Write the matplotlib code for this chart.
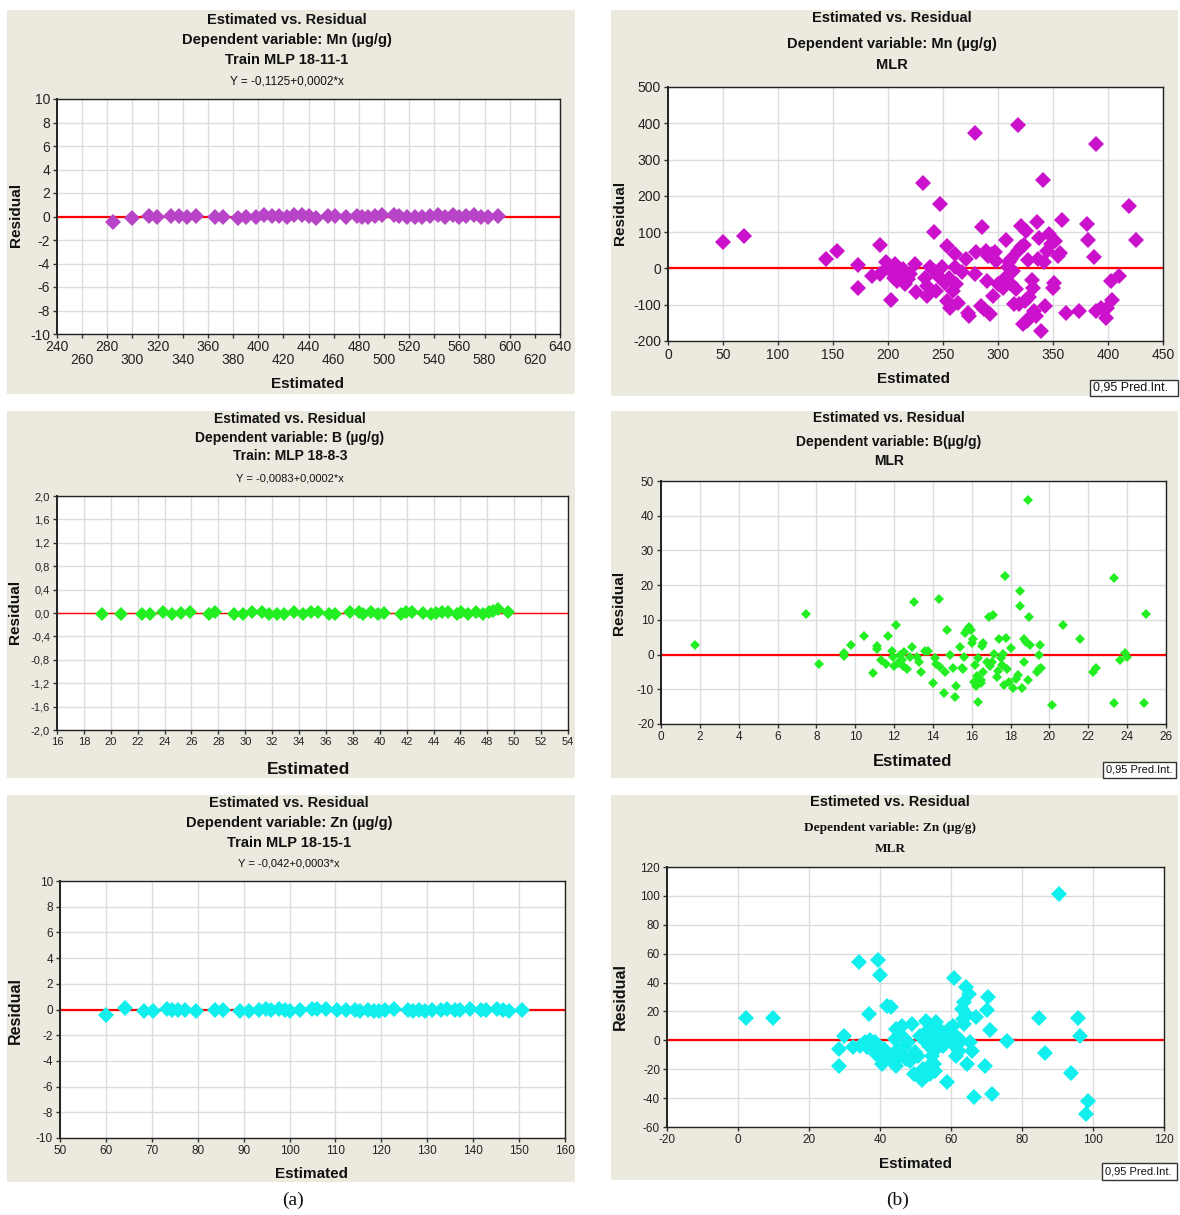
import numpy as np
import matplotlib.pyplot as plt
from matplotlib.patches import Rectangle

W, H = 1180, 1215
BG = '#ECE9DF'
SANS = 'Liberation Sans'
SERIF = 'Liberation Serif'

# ---- (a) Mn, MLP 18-11-1 ----
mn_mlp_x = [284.3, 299.3, 313.4, 319.4, 330.5, 337.4, 343.4, 350.3, 365.8, 371.8,
            383.8, 390.4, 398.2, 404.8, 410.8, 416.8, 422.8, 428.2, 434.8, 440.1,
            446.1, 455.7, 461.1, 470.1, 478.2, 482.7, 487.2, 493.2, 498.3, 508.2,
            512.1, 518.7, 524.6, 530.6, 536.6, 542.6, 548.6, 554.6, 560.0, 565.1,
            572.0, 577.1, 583.1, 590.6]
mn_mlp_y = [-0.5, -0.15, 0.05, 0.0, 0.02, 0.05, 0.0, 0.05, 0.0, -0.02,
            -0.1, 0.0, -0.05, 0.1, 0.05, 0.05, 0.0, 0.1, 0.15, 0.05,
            -0.1, 0.05, 0.05, 0.0, 0.05, 0.0, -0.05, 0.05, 0.1, 0.15,
            0.05, 0.0, -0.05, 0.0, 0.05, 0.1, 0.0, 0.1, 0.0, 0.05,
            0.1, 0.0, 0.0, 0.05]

# ---- (b) Mn, MLR ----
mn_mlr_x = [50.2, 69.1, 143.2, 154, 172.9, 172.9, 185, 193.1, 192.5, 198,
            200, 203, 205, 206.6, 202.6, 208.3, 211.6, 213.3, 215, 218.4,
            220, 224.5, 225.2, 231.5, 233.6, 235.3, 235.3, 238.6, 242, 242,
            243.7, 245.4, 247, 248.7, 252, 253.8, 253.8, 255.5, 256.5, 258.8,
            260.5, 261.2, 262.2, 263.2, 267.3, 271.3, 272.7, 273.3, 279, 280,
            279, 285.8, 284.1, 287.5, 289.2, 290.2, 290.9, 292.6, 294.2, 295.9,
            297.6, 298.3, 300.3, 304.3, 306, 307.7, 308.7, 310.4, 311.8, 311.8,
            313.8, 314.5, 316.1, 317.8, 318.5, 319.5, 320.5, 321.2, 322.9, 323.9,
            324.6, 325.2, 326.2, 327.3, 327.9, 329.6, 330.6, 332, 333, 334.7,
            335.4, 336.4, 337.4, 338.8, 340.8, 341.4, 343.1, 344.8, 346.5, 348.2,
            349.9, 350.9, 352.2, 354.2, 356.6, 358.3, 361.6, 373.8, 380.5, 381.9,
            387.6, 389.3, 389.3, 393.7, 398.1, 399.4, 403.1, 403.8, 410.2, 419,
            425.7]
mn_mlr_y = [72, 89, 26, 49, 9, -53, -20, 65, -16, 17,
            3, -6, -25, 12, -88, -34, -20, -2, -43, -30,
            -16, 12, -64, 235, -25, -48, -76, 3, 101, -6,
            -62, -20, 178, 3, -39, 61, -89, -25, -108, -62,
            3, 40, -43, -94, -11, 26, -122, -131, 372, 44,
            -14, 115, -103, -113, 49, -34, 35, -126, 40, -76,
            44, 21, -43, -53, -25, 78, 3, 17, 26, -43,
            -6, -99, -57, 49, 394, -99, 58, 118, -154, 65,
            -89, 104, -145, 23, -80, -131, -32, -53, -117, -131,
            129, 26, 83, -173, 245, 17, -103, 49, 95, 67,
            -53, -39, 75, 35, 42, 134, -124, -117, 123, 78,
            32, 342, -117, -108, -137, -108, -36, -88, -20, 173,
            78]

# ---- (a) B, MLP 18-8-3 ----
b_mlp_x = [19.35, 20.75, 22.29, 22.9, 23.88, 24.52, 25.22, 25.92, 27.32, 27.74,
           29.13, 29.83, 30.53, 31.23, 31.79, 32.35, 32.9, 33.6, 34.3, 34.86,
           35.42, 36.26, 36.68, 37.79, 38.49, 38.77, 39.33, 39.89, 40.31, 41.57,
           41.98, 42.4, 43.24, 43.8, 44.22, 44.64, 45.06, 45.76, 46.04, 46.6,
           47.15, 47.71, 48.13, 48.41, 48.83, 49.53]
b_mlp_y = [-0.02, -0.02, -0.01, -0.01, 0.02, -0.01, 0.0, 0.02, -0.01, 0.01,
           -0.01, -0.01, 0.01, 0.01, -0.01, -0.01, -0.01, 0.01, -0.01, 0.01,
           0.01, -0.01, -0.01, 0.02, 0.01, -0.01, 0.01, -0.01, 0.0, -0.01,
           0.01, 0.01, 0.0, -0.01, 0.0, 0.01, 0.01, -0.01, 0.01, -0.01,
           0.01, -0.01, 0.02, 0.04, 0.06, 0.02]

# ---- (b) B, MLR ----
b_mlr_x = [1.77, 7.47, 8.14, 9.4, 9.4, 9.79, 10.44, 10.94, 11.13, 11.13,
           11.32, 11.6, 11.7, 11.89, 11.92, 12.02, 12.08, 12.21, 12.3, 12.4,
           12.46, 12.5, 12.65, 12.84, 12.91, 13.03, 13.16, 13.29, 13.37, 13.6,
           13.73, 13.98, 14.11, 14.17, 14.32, 14.36, 14.55, 14.64, 14.72, 14.89,
           15.02, 15.12, 15.21, 15.39, 15.48, 15.54, 15.61, 15.63, 15.73, 15.86,
           15.98, 16.01, 16.07, 16.1, 16.17, 16.2, 16.26, 16.34, 16.34, 16.45,
           16.49, 16.55, 16.58, 16.6, 16.77, 16.91, 16.96, 17.02, 17.1, 17.15,
           17.29, 17.35, 17.4, 17.48, 17.54, 17.59, 17.67, 17.71, 17.74, 17.82,
           17.92, 18.01, 18.11, 18.3, 18.39, 18.49, 18.49, 18.58, 18.68, 18.71,
           18.81, 18.87, 18.9, 18.96, 19.0, 19.34, 19.44, 19.48, 19.53, 19.59,
           20.14, 20.71, 21.59, 22.25, 22.39, 23.3, 23.34, 23.62, 23.91, 24.0,
           24.86, 24.95]
b_mlr_y = [2.7, 11.8, -2.7, -0.3, 0.5, 2.7, 5.4, -5.4, 2.4, 1.5,
           -1.6, -2.8, 5.4, 1.1, -0.6, -3.2, 8.6, -2.5, -0.1, -1.6,
           -3.2, 0.8, -4.3, -0.8, 2.1, 15.2, -0.6, -2.1, -4.9, 1.1,
           1.1, -8.1, -1.1, -2.8, 16.0, -3.5, -11.2, -4.9, 7.0, -0.1,
           -3.8, -12.1, -9.1, 2.1, -4.0, -4.3, -0.6, 6.1, 7.0, 8.0,
           7.0, 3.4, 4.4, -7.8, -3.0, -9.1, -6.2, -1.1, -13.6, -7.4,
           -8.3, 2.4, 3.2, -4.9, -2.2, 10.7, -3.2, -2.1, 11.4, 0.1,
           -6.4, -4.6, 4.4, -1.1, -3.0, 0.1, -8.8, 22.5, 4.9, -4.3,
           -7.8, 1.8, -9.7, -6.9, -5.9, 18.4, 14.0, -9.7, -2.2, 4.4,
           3.7, 44.6, -7.2, 10.7, 2.7, -4.9, -0.1, -4.3, 2.7, -4.0,
           -14.5, 8.6, 4.4, -4.9, -4.0, 22.1, -13.9, -1.6, 0.5, -0.6,
           -13.9, 11.8]

# ---- (a) Zn, MLP 18-15-1 ----
zn_mlp_x = [60.0, 64.1, 68.2, 70.3, 73.2, 74.4, 75.6, 77.3, 79.6, 83.8,
            85.5, 89.2, 91.2, 93.3, 94.9, 96.0, 97.8, 99.0, 100.2, 102.3,
            104.8, 106.0, 108.0, 110.3, 112.2, 114.2, 115.4, 117.1, 118.3, 119.5,
            120.8, 122.7, 125.9, 126.9, 128.2, 129.4, 131.0, 132.9, 134.3, 136.0,
            137.2, 139.2, 141.7, 142.9, 145.2, 146.6, 147.9, 150.7]
zn_mlp_y = [-0.4, 0.1, -0.1, -0.1, 0.05, 0.0, -0.05, -0.05, -0.1, -0.05,
            0.0, -0.1, -0.1, -0.05, 0.05, -0.05, 0.05, 0.0, -0.1, -0.05,
            0.05, 0.05, 0.05, 0.0, -0.05, -0.05, -0.1, 0.0, -0.1, -0.1,
            -0.05, 0.05, 0.0, -0.1, 0.0, -0.1, -0.05, 0.0, 0.05, 0.0,
            -0.05, 0.05, -0.05, -0.05, 0.05, -0.05, -0.1, -0.05]

# ---- (b) Zn, MLR ----
zn_mlr_x = [2.17, 9.98, 28.5, 28.5, 29.96, 32.36, 34.13, 34.44, 35.69, 36.21,
            36.83, 37.25, 38.08, 38.5, 38.81, 39.54, 39.96, 40.16, 40.58, 41.21,
            41.93, 42.25, 42.98, 43.5, 44.02, 44.33, 44.54, 44.54, 45.06, 45.58,
            46.1, 46.41, 46.83, 47.45, 47.97, 48.49, 49.01, 49.53, 49.95, 50.57,
            51.3, 51.82, 52.03, 52.65, 53.07, 53.38, 53.7, 53.9, 54.22, 54.53,
            54.74, 54.95, 55.26, 55.57, 55.78, 56.2, 56.51, 57.03, 57.86, 58.28,
            58.9, 59.32, 59.94, 60.67, 60.98, 61.19, 61.5, 61.82, 62.23, 62.75,
            63.07, 63.28, 63.59, 63.79, 64.1, 64.31, 64.63, 64.94, 65.36, 65.88,
            66.4, 66.91, 69.52, 70.04, 70.56, 71.08, 71.6, 75.76, 84.72, 86.38,
            90.55, 93.67, 95.85, 96.37, 97.93, 98.46]
zn_mlr_y = [15.6, 15.6, -6.0, -17.5, 3.2, -4.4, 54.3, -3.7, -1.4, -4.8,
            18.2, 0.5, -3.7, -1.4, -9.4, 55.6, 45.3, -12.4, -16.3, -6.0,
            23.9, -11.3, 22.8, -10.6, -15.2, 0.9, 7.8, -17.5, -6.0, 4.4,
            10.1, -10.6, -4.8, -12.9, -1.4, -14.0, 11.3, -23.2, -8.3, -10.6,
            3.2, -27.8, -19.8, -0.2, 13.6, 6.7, -17.5, -3.7, -23.2, 2.1,
            -10.6, 10.1, -16.3, -20.9, 12.4, -4.8, 7.8, -1.4, -3.7, 3.2,
            -29.0, 7.8, 0.5, 10.1, 43.0, -3.7, -10.6, 2.1, -7.1, -0.2,
            21.6, 14.7, 11.3, 26.2, 36.6, 18.2, -16.3, 32.0, -1.4, -7.1,
            -39.3, 15.9, -17.5, 21.1, 30.1, 7.1, -37.0, -0.7, 15.6, -8.7,
            101.6, -22.8, 15.6, 3.2, -51.3, -42.1]


fig = plt.figure(figsize=(W / 100, H / 100), dpi=100)
fig.patch.set_facecolor('white')


def box(l, t, r, b, fc=BG, ec='none', lw=0, z=-5):
    fig.patches.append(Rectangle((l / W, 1 - b / H), (r - l) / W, (b - t) / H,
                                 transform=fig.transFigure, facecolor=fc,
                                 edgecolor=ec, linewidth=lw, zorder=z))


def txt(x, y, s, size=10, weight='normal', family=SANS, **kw):
    fig.text(x / W, 1 - y / H, s, ha='center', va='center', fontsize=size,
             fontweight=weight, family=family, color='#111111', **kw)


def make_axes(l, t, r, b, xticks, xlabels, yticks, ylabels, tsize):
    ax = fig.add_axes([l / W, 1 - b / H, (r - l) / W, (b - t) / H])
    ax.set_facecolor('white')
    ax.set_xlim(xticks[0], xticks[-1])
    ax.set_ylim(yticks[0], yticks[-1])
    ax.set_xticks(xticks)
    ax.set_xticklabels(xlabels, fontsize=tsize, family=SANS, color='#222222')
    ax.set_yticks(yticks)
    ax.set_yticklabels(ylabels, fontsize=tsize, family=SANS, color='#222222')
    ax.grid(True, color='#dcdcdc', linewidth=1)
    ax.set_axisbelow(True)
    ax.tick_params(direction='out', length=3, width=1, pad=2, color='#333333')
    for s in ax.spines.values():
        s.set_color('#222222')
        s.set_linewidth(1)
    ax.spines['left'].set_linewidth(1.4)
    return ax


def points(ax, x, y, color, ms, lw=1.6):
    ax.axhline(0, color='red', linewidth=lw, zorder=2)
    ax.plot(x, y, linestyle='none', marker='D', markersize=ms,
            markerfacecolor=color, markeredgewidth=0, zorder=3, clip_on=False)


def legend_box(l, t, r, b, size=8.5):
    box(l, t, r, b, fc='white', ec='#333333', lw=1, z=5)
    fig.text((l + 3) / W, 1 - (t + b) / 2 / H, '0,95 Pred.Int.', ha='left',
             va='center', fontsize=size, family=SANS, color='#111111', zorder=6)


def fmt(vals, nd=0):
    if nd == 0:
        return [str(int(v)) for v in vals]
    return [('%.*f' % (nd, v)).replace('.', ',') for v in vals]


# ---------- panel backgrounds ----------
box(7, 10, 575, 394)
box(611, 10, 1178, 396)
box(7, 411, 575, 778)
box(611, 411, 1178, 778)
box(7, 795, 575, 1182)
box(611, 795, 1178, 1180)

# ---------- (a) Mn MLP ----------
xt = list(range(240, 641, 20))
xl = [str(v) if i % 2 == 0 else '\n' + str(v) for i, v in enumerate(xt)]
yt = list(range(-10, 11, 2))
ax = make_axes(57, 99, 560, 334, xt, xl, yt, fmt(yt), 10)
ax.tick_params(axis='x', pad=1)
for lab in ax.get_xticklabels():
    lab.set_linespacing(0.95)
points(ax, mn_mlp_x, mn_mlp_y, '#B844C8', 8.5)
txt(287, 20, 'Estimated vs. Residual', 10.5, 'bold')
txt(287, 40, 'Dependent variable: Mn (\u00b5g/g)', 10.5, 'bold')
txt(287, 60, 'Train MLP 18-11-1', 10.5, 'bold')
txt(287, 82, 'Y = -0,1125+0,0002*x', 8.5)
txt(16, 215, 'Residual', 11, 'bold', rotation=90)
txt(308, 384, 'Estimated', 11, 'bold')

# ---------- (b) Mn MLR ----------
xt = list(range(0, 451, 50))
yt = list(range(-200, 501, 100))
ax = make_axes(668, 87, 1163, 341, xt, fmt(xt), yt, fmt(yt), 10)
points(ax, mn_mlr_x, mn_mlr_y, '#CC11CC', 8)
txt(892, 18, 'Estimated vs. Residual', 10.5, 'bold')
txt(892, 44, 'Dependent variable: Mn (\u00b5g/g)', 10.5, 'bold')
txt(892, 65, 'MLR', 10.5, 'bold')
txt(620, 213, 'Residual', 11, 'bold', rotation=90)
txt(913, 379, 'Estimated', 11, 'bold')
legend_box(1090, 380, 1178, 396, 9)

# ---------- (a) B MLP ----------
xt = list(range(16, 55, 2))
yt = [round(-2.0 + 0.4 * i, 1) for i in range(11)]
ax = make_axes(57, 496, 568, 730, xt, fmt(xt), yt, fmt(yt, 1), 8)
points(ax, b_mlp_x, b_mlp_y, '#22EE22', 7.5, lw=1)
txt(290, 419, 'Estimated vs. Residual', 10, 'bold')
txt(290, 438, 'Dependent variable: B (\u00b5g/g)', 10, 'bold')
txt(290, 456, 'Train: MLP 18-8-3', 10, 'bold')
txt(290, 478, 'Y = -0,0083+0,0002*x', 8)
txt(15, 612, 'Residual', 11, 'bold', rotation=90)
txt(309, 770, 'Estimated', 12.5, 'bold')

# ---------- (b) B MLR ----------
xt = list(range(0, 27, 2))
yt = list(range(-20, 51, 10))
ax = make_axes(661, 481, 1166, 724, xt, fmt(xt), yt, fmt(yt), 8.5)
points(ax, b_mlr_x, b_mlr_y, '#22EE22', 5)
txt(889, 418, 'Estimated vs. Residual', 10, 'bold')
txt(889, 442, 'Dependent variable: B(\u00b5g/g)', 10, 'bold')
txt(889, 461, 'MLR', 10, 'bold')
txt(619, 603, 'Residual', 11, 'bold', rotation=90)
txt(913, 762, 'Estimated', 12, 'bold')
legend_box(1103, 762, 1176, 778, 8)

# ---------- (a) Zn MLP ----------
xt = list(range(50, 161, 10))
yt = list(range(-10, 11, 2))
ax = make_axes(60, 881, 565, 1138, xt, fmt(xt), yt, fmt(yt), 8.5)
points(ax, zn_mlp_x, zn_mlp_y, '#11EEEE', 8.5)
txt(289, 803, 'Estimated vs. Residual', 10.5, 'bold')
txt(289, 823, 'Dependent variable: Zn (\u00b5g/g)', 10.5, 'bold')
txt(289, 843, 'Train MLP 18-15-1', 10.5, 'bold')
txt(289, 864, 'Y = -0,042+0,0003*x', 8)
txt(15, 1010, 'Residual', 11.5, 'bold', rotation=90)
txt(311, 1174, 'Estimated', 11, 'bold')

# ---------- (b) Zn MLR ----------
xt = list(range(-20, 121, 20))
yt = list(range(-60, 121, 20))
ax = make_axes(667, 867, 1164, 1127, xt, fmt(xt), yt, fmt(yt), 8.5)
points(ax, zn_mlr_x, zn_mlr_y, '#11EEEE', 8)
txt(890, 802, 'Estimeted vs. Residual', 10.5, 'bold')
txt(890, 828, 'Dependent variable: Zn (\u00b5g/g)', 9.5, 'bold', SERIF)
txt(890, 849, 'MLR', 9.5, 'bold', SERIF)
txt(620, 997, 'Residual', 11.5, 'bold', rotation=90)
txt(915, 1164, 'Estimated', 11, 'bold')
legend_box(1102, 1163, 1177, 1180, 8)

txt(293, 1200, '(a)', 14, family=SERIF)
txt(898, 1200, '(b)', 14, family=SERIF)

fig.savefig('out.png', dpi=100, facecolor=fig.get_facecolor())
